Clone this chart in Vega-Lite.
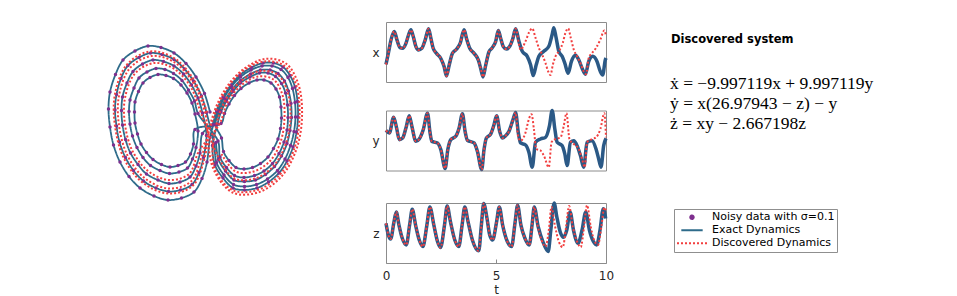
{
"padding": {"left": 98, "top": 20, "right": 5, "bottom": 0},
"background": "white",
"config": {"view": {"stroke": "#8c8c8c", "strokeWidth": 1}, "font": "DejaVu Sans", "axis": {"grid": false}},
"datasets": {
"ts": [
{"p":"x","s":"E","t":0,"y":-8.3},{"p":"x","s":"E","t":0.121,"y":0.2},{"p":"x","s":"E","t":0.227,"y":8.1},{"p":"x","s":"E","t":0.378,"y":13.7},{"p":"x","s":"E","t":0.498,"y":8.1},{"p":"x","s":"E","t":0.634,"y":2.9},{"p":"x","s":"E","t":0.755,"y":2.5},{"p":"x","s":"E","t":0.906,"y":5.8},{"p":"x","s":"E","t":1.027,"y":11.5},{"p":"x","s":"E","t":1.133,"y":14.8},{"p":"x","s":"E","t":1.239,"y":10.3},{"p":"x","s":"E","t":1.36,"y":3.6},{"p":"x","s":"E","t":1.48,"y":1.4},{"p":"x","s":"E","t":1.631,"y":2.5},{"p":"x","s":"E","t":1.782,"y":8.1},{"p":"x","s":"E","t":1.934,"y":15.5},{"p":"x","s":"E","t":2.039,"y":9.2},{"p":"x","s":"E","t":2.145,"y":2.5},{"p":"x","s":"E","t":2.296,"y":-0.9},{"p":"x","s":"E","t":2.492,"y":-4.3},{"p":"x","s":"E","t":2.644,"y":-9.9},{"p":"x","s":"E","t":2.749,"y":-16},{"p":"x","s":"E","t":2.87,"y":-8.8},{"p":"x","s":"E","t":3.021,"y":-0.9},{"p":"x","s":"E","t":3.202,"y":1.8},{"p":"x","s":"E","t":3.369,"y":5.8},{"p":"x","s":"E","t":3.55,"y":14.8},{"p":"x","s":"E","t":3.656,"y":9.2},{"p":"x","s":"E","t":3.807,"y":2.5},{"p":"x","s":"E","t":4.003,"y":-0.9},{"p":"x","s":"E","t":4.199,"y":-5.4},{"p":"x","s":"E","t":4.305,"y":-11},{"p":"x","s":"E","t":4.411,"y":-16.6},{"p":"x","s":"E","t":4.532,"y":-8.8},{"p":"x","s":"E","t":4.683,"y":0.2},{"p":"x","s":"E","t":4.834,"y":2.9},{"p":"x","s":"E","t":4.985,"y":7},{"p":"x","s":"E","t":5.106,"y":14.4},{"p":"x","s":"E","t":5.211,"y":9.2},{"p":"x","s":"E","t":5.332,"y":3.6},{"p":"x","s":"E","t":5.468,"y":2},{"p":"x","s":"E","t":5.619,"y":3.6},{"p":"x","s":"E","t":5.77,"y":9.2},{"p":"x","s":"E","t":5.891,"y":15.5},{"p":"x","s":"E","t":6.042,"y":7.2},{"p":"x","s":"E","t":6.193,"y":0.5},{"p":"x","s":"E","t":6.42,"y":-2.9},{"p":"x","s":"E","t":6.571,"y":-8.5},{"p":"x","s":"E","t":6.692,"y":-15.7},{"p":"x","s":"E","t":6.828,"y":-8.5},{"p":"x","s":"E","t":6.949,"y":-2.9},{"p":"x","s":"E","t":7.175,"y":0.5},{"p":"x","s":"E","t":7.402,"y":3.8},{"p":"x","s":"E","t":7.553,"y":11.7},{"p":"x","s":"E","t":7.628,"y":16.2},{"p":"x","s":"E","t":7.734,"y":9.4},{"p":"x","s":"E","t":7.855,"y":0.5},{"p":"x","s":"E","t":8.006,"y":-2.9},{"p":"x","s":"E","t":8.127,"y":-7.4},{"p":"x","s":"E","t":8.278,"y":-14.2},{"p":"x","s":"E","t":8.429,"y":-6.3},{"p":"x","s":"E","t":8.61,"y":-2.2},{"p":"x","s":"E","t":8.761,"y":-5.2},{"p":"x","s":"E","t":8.912,"y":-10.8},{"p":"x","s":"E","t":9.063,"y":-14.8},{"p":"x","s":"E","t":9.215,"y":-6.3},{"p":"x","s":"E","t":9.396,"y":-2.9},{"p":"x","s":"E","t":9.592,"y":-6.3},{"p":"x","s":"E","t":9.743,"y":-13},{"p":"x","s":"E","t":9.849,"y":-15.3},{"p":"x","s":"E","t":9.97,"y":-5.2},{"p":"x","s":"E","t":10,"y":-4},
{"p":"x","s":"D","t":6.118,"y":1.6},{"p":"x","s":"D","t":6.344,"y":7.2},{"p":"x","s":"D","t":6.495,"y":12.8},{"p":"x","s":"D","t":6.647,"y":15.7},{"p":"x","s":"D","t":6.798,"y":9.4},{"p":"x","s":"D","t":6.949,"y":2.7},{"p":"x","s":"D","t":7.1,"y":-1.8},{"p":"x","s":"D","t":7.251,"y":-7.4},{"p":"x","s":"D","t":7.372,"y":-13},{"p":"x","s":"D","t":7.477,"y":-15.3},{"p":"x","s":"D","t":7.583,"y":-8.5},{"p":"x","s":"D","t":7.704,"y":-2.9},{"p":"x","s":"D","t":7.855,"y":0.5},{"p":"x","s":"D","t":8.036,"y":6.1},{"p":"x","s":"D","t":8.157,"y":12.8},{"p":"x","s":"D","t":8.278,"y":15.7},{"p":"x","s":"D","t":8.399,"y":9.4},{"p":"x","s":"D","t":8.535,"y":1.6},{"p":"x","s":"D","t":8.686,"y":-2.9},{"p":"x","s":"D","t":8.837,"y":-7.4},{"p":"x","s":"D","t":8.988,"y":-13},{"p":"x","s":"D","t":9.094,"y":-14.8},{"p":"x","s":"D","t":9.215,"y":-4},{"p":"x","s":"D","t":9.366,"y":-0.7},{"p":"x","s":"D","t":9.547,"y":2.7},{"p":"x","s":"D","t":9.743,"y":8.3},{"p":"x","s":"D","t":9.924,"y":14.4},{"p":"x","s":"D","t":10,"y":10.6},
{"p":"y","s":"E","t":0,"y":9.4},{"p":"y","s":"E","t":0.151,"y":7},{"p":"y","s":"E","t":0.347,"y":21.8},{"p":"y","s":"E","t":0.483,"y":11.6},{"p":"y","s":"E","t":0.604,"y":0.8},{"p":"y","s":"E","t":0.755,"y":2.3},{"p":"y","s":"E","t":0.906,"y":11.6},{"p":"y","s":"E","t":1.057,"y":23},{"p":"y","s":"E","t":1.178,"y":13.1},{"p":"y","s":"E","t":1.36,"y":-0.8},{"p":"y","s":"E","t":1.511,"y":1.4},{"p":"y","s":"E","t":1.692,"y":10.1},{"p":"y","s":"E","t":1.888,"y":25.5},{"p":"y","s":"E","t":1.994,"y":8.5},{"p":"y","s":"E","t":2.085,"y":-0.8},{"p":"y","s":"E","t":2.341,"y":-2.3},{"p":"y","s":"E","t":2.492,"y":-8.5},{"p":"y","s":"E","t":2.689,"y":-26.1},{"p":"y","s":"E","t":2.81,"y":-8.5},{"p":"y","s":"E","t":2.946,"y":0.8},{"p":"y","s":"E","t":3.172,"y":3.9},{"p":"y","s":"E","t":3.323,"y":11.6},{"p":"y","s":"E","t":3.474,"y":24.9},{"p":"y","s":"E","t":3.595,"y":8.5},{"p":"y","s":"E","t":3.701,"y":0.2},{"p":"y","s":"E","t":4.003,"y":-2.3},{"p":"y","s":"E","t":4.154,"y":-10.1},{"p":"y","s":"E","t":4.35,"y":-27.1},{"p":"y","s":"E","t":4.456,"y":-8.5},{"p":"y","s":"E","t":4.562,"y":2.3},{"p":"y","s":"E","t":4.758,"y":6},{"p":"y","s":"E","t":4.909,"y":14.7},{"p":"y","s":"E","t":5.03,"y":23},{"p":"y","s":"E","t":5.166,"y":8.5},{"p":"y","s":"E","t":5.287,"y":2.3},{"p":"y","s":"E","t":5.438,"y":4.5},{"p":"y","s":"E","t":5.589,"y":8.5},{"p":"y","s":"E","t":5.77,"y":19.3},{"p":"y","s":"E","t":5.891,"y":26.1},{"p":"y","s":"E","t":6.012,"y":7.6},{"p":"y","s":"E","t":6.118,"y":-2.3},{"p":"y","s":"E","t":6.344,"y":-4.2},{"p":"y","s":"E","t":6.495,"y":-11},{"p":"y","s":"E","t":6.647,"y":-24.9},{"p":"y","s":"E","t":6.798,"y":-1.7},{"p":"y","s":"E","t":7.024,"y":1.4},{"p":"y","s":"E","t":7.251,"y":2.9},{"p":"y","s":"E","t":7.432,"y":13.8},{"p":"y","s":"E","t":7.553,"y":28},{"p":"y","s":"E","t":7.674,"y":10.7},{"p":"y","s":"E","t":7.779,"y":-1.7},{"p":"y","s":"E","t":8.006,"y":-4.8},{"p":"y","s":"E","t":8.127,"y":-12.5},{"p":"y","s":"E","t":8.233,"y":-23.4},{"p":"y","s":"E","t":8.384,"y":-1.7},{"p":"y","s":"E","t":8.535,"y":-0.2},{"p":"y","s":"E","t":8.686,"y":-4.8},{"p":"y","s":"E","t":8.837,"y":-14.1},{"p":"y","s":"E","t":8.988,"y":-24.9},{"p":"y","s":"E","t":9.139,"y":-1.7},{"p":"y","s":"E","t":9.366,"y":-0.2},{"p":"y","s":"E","t":9.547,"y":-7.9},{"p":"y","s":"E","t":9.668,"y":-17.2},{"p":"y","s":"E","t":9.773,"y":-24.9},{"p":"y","s":"E","t":9.894,"y":-4.8},{"p":"y","s":"E","t":10,"y":2},
{"p":"y","s":"D","t":6.012,"y":2.9},{"p":"y","s":"D","t":6.118,"y":-0.2},{"p":"y","s":"D","t":6.344,"y":7.6},{"p":"y","s":"D","t":6.495,"y":20},{"p":"y","s":"D","t":6.616,"y":24.6},{"p":"y","s":"D","t":6.722,"y":10.7},{"p":"y","s":"D","t":6.828,"y":-7.9},{"p":"y","s":"D","t":7.024,"y":-9.4},{"p":"y","s":"D","t":7.175,"y":-14.1},{"p":"y","s":"D","t":7.402,"y":-24.9},{"p":"y","s":"D","t":7.523,"y":-1.7},{"p":"y","s":"D","t":7.704,"y":1.4},{"p":"y","s":"D","t":7.93,"y":2.9},{"p":"y","s":"D","t":8.082,"y":13.8},{"p":"y","s":"D","t":8.202,"y":25.5},{"p":"y","s":"D","t":8.338,"y":1.4},{"p":"y","s":"D","t":8.535,"y":-3.3},{"p":"y","s":"D","t":8.761,"y":-7.9},{"p":"y","s":"D","t":8.912,"y":-17.2},{"p":"y","s":"D","t":9.033,"y":-24.9},{"p":"y","s":"D","t":9.139,"y":-1.7},{"p":"y","s":"D","t":9.366,"y":1.4},{"p":"y","s":"D","t":9.547,"y":2.9},{"p":"y","s":"D","t":9.743,"y":10.7},{"p":"y","s":"D","t":9.924,"y":25.5},{"p":"y","s":"D","t":10,"y":2.9},
{"p":"z","s":"E","t":0,"y":33},{"p":"z","s":"E","t":0.106,"y":23.4},{"p":"z","s":"E","t":0.211,"y":20.1},{"p":"z","s":"E","t":0.363,"y":34.3},{"p":"z","s":"E","t":0.468,"y":42.6},{"p":"z","s":"E","t":0.589,"y":31.6},{"p":"z","s":"E","t":0.74,"y":20.6},{"p":"z","s":"E","t":0.921,"y":15.1},{"p":"z","s":"E","t":1.073,"y":31.6},{"p":"z","s":"E","t":1.193,"y":44.8},{"p":"z","s":"E","t":1.344,"y":31.6},{"p":"z","s":"E","t":1.511,"y":19.2},{"p":"z","s":"E","t":1.677,"y":13.7},{"p":"z","s":"E","t":1.858,"y":31.6},{"p":"z","s":"E","t":1.994,"y":46.7},{"p":"z","s":"E","t":2.175,"y":31.6},{"p":"z","s":"E","t":2.341,"y":17.9},{"p":"z","s":"E","t":2.477,"y":12.9},{"p":"z","s":"E","t":2.659,"y":31.6},{"p":"z","s":"E","t":2.779,"y":47.5},{"p":"z","s":"E","t":2.931,"y":34.3},{"p":"z","s":"E","t":3.127,"y":19.2},{"p":"z","s":"E","t":3.308,"y":13.7},{"p":"z","s":"E","t":3.459,"y":31.6},{"p":"z","s":"E","t":3.58,"y":46.7},{"p":"z","s":"E","t":3.731,"y":34.3},{"p":"z","s":"E","t":3.927,"y":19.2},{"p":"z","s":"E","t":4.215,"y":10.2},{"p":"z","s":"E","t":4.335,"y":31.6},{"p":"z","s":"E","t":4.441,"y":49.5},{"p":"z","s":"E","t":4.592,"y":37.1},{"p":"z","s":"E","t":4.713,"y":23.4},{"p":"z","s":"E","t":4.849,"y":19.2},{"p":"z","s":"E","t":5.015,"y":33},{"p":"z","s":"E","t":5.151,"y":46.7},{"p":"z","s":"E","t":5.302,"y":31.6},{"p":"z","s":"E","t":5.514,"y":17.9},{"p":"z","s":"E","t":5.71,"y":13.7},{"p":"z","s":"E","t":5.861,"y":33},{"p":"z","s":"E","t":5.982,"y":48.1},{"p":"z","s":"E","t":6.133,"y":31.6},{"p":"z","s":"E","t":6.314,"y":20.6},{"p":"z","s":"E","t":6.511,"y":15.1},{"p":"z","s":"E","t":6.647,"y":33},{"p":"z","s":"E","t":6.737,"y":46.7},{"p":"z","s":"E","t":6.918,"y":30.2},{"p":"z","s":"E","t":7.13,"y":17.9},{"p":"z","s":"E","t":7.372,"y":9.6},{"p":"z","s":"E","t":7.492,"y":27.5},{"p":"z","s":"E","t":7.644,"y":50},{"p":"z","s":"E","t":7.764,"y":38.5},{"p":"z","s":"E","t":7.915,"y":26.1},{"p":"z","s":"E","t":8.066,"y":21.4},{"p":"z","s":"E","t":8.218,"y":27.5},{"p":"z","s":"E","t":8.369,"y":42.6},{"p":"z","s":"E","t":8.52,"y":27.5},{"p":"z","s":"E","t":8.731,"y":16.5},{"p":"z","s":"E","t":8.912,"y":27.5},{"p":"z","s":"E","t":9.079,"y":42.6},{"p":"z","s":"E","t":9.245,"y":27.5},{"p":"z","s":"E","t":9.426,"y":17.9},{"p":"z","s":"E","t":9.577,"y":15.1},{"p":"z","s":"E","t":9.728,"y":27.5},{"p":"z","s":"E","t":9.879,"y":45.3},{"p":"z","s":"E","t":9.985,"y":37.1},
{"p":"z","s":"D","t":6.888,"y":31.6},{"p":"z","s":"D","t":7.069,"y":19.2},{"p":"z","s":"D","t":7.251,"y":13.7},{"p":"z","s":"D","t":7.402,"y":27.5},{"p":"z","s":"D","t":7.523,"y":46.7},{"p":"z","s":"D","t":7.674,"y":31.6},{"p":"z","s":"D","t":7.855,"y":17.9},{"p":"z","s":"D","t":8.036,"y":13.2},{"p":"z","s":"D","t":8.187,"y":30.2},{"p":"z","s":"D","t":8.323,"y":47.5},{"p":"z","s":"D","t":8.489,"y":30.2},{"p":"z","s":"D","t":8.686,"y":17.9},{"p":"z","s":"D","t":8.852,"y":13.2},{"p":"z","s":"D","t":9.003,"y":30.2},{"p":"z","s":"D","t":9.139,"y":48.1},{"p":"z","s":"D","t":9.305,"y":30.2},{"p":"z","s":"D","t":9.486,"y":17.9},{"p":"z","s":"D","t":9.637,"y":15.1},{"p":"z","s":"D","t":9.789,"y":30.2},{"p":"z","s":"D","t":9.924,"y":46.2},{"p":"z","s":"D","t":9.985,"y":44}
],
"ae": [
{"o":0,"u":0.4,"v":19.6},{"o":1,"u":-0.7,"v":23.3},{"o":2,"u":-2.4,"v":26.6},{"o":3,"u":-4.4,"v":29.3},{"o":4,"u":-6.8,"v":31.4},{"o":5,"u":-9.4,"v":32.5},{"o":6,"u":-12,"v":32.8},{"o":7,"u":-14.6,"v":31.8},{"o":8,"u":-17,"v":30},{"o":9,"u":-18.5,"v":27.1},{"o":10,"u":-19.6,"v":23.6},{"o":11,"u":-19.9,"v":20.2},{"o":12,"u":-19.6,"v":16.6},{"o":13,"u":-18.9,"v":13},{"o":14,"u":-17.6,"v":9.6},{"o":15,"u":-15.8,"v":6.7},{"o":16,"u":-13.6,"v":4.4},{"o":17,"u":-10.8,"v":2.8},{"o":18,"u":-8,"v":2},{"o":19,"u":-5.3,"v":2.4},{"o":20,"u":-2.8,"v":3.6},{"o":21,"u":-1.2,"v":6.3},{"o":22,"u":-0.2,"v":9.6},{"o":23,"u":0.4,"v":14.5},
{"o":24,"u":1.1,"v":17.1},{"o":25,"u":2,"v":19.8},{"o":26,"u":3.2,"v":22.4},{"o":27,"u":4.7,"v":24.7},{"o":28,"u":6.5,"v":26.6},{"o":29,"u":8.6,"v":28},{"o":30,"u":10.8,"v":28.8},{"o":31,"u":12.8,"v":28.8},{"o":32,"u":14.6,"v":28.1},{"o":33,"u":16,"v":26.5},{"o":34,"u":16.9,"v":24.3},{"o":35,"u":17.4,"v":21.5},{"o":36,"u":17.5,"v":18.6},{"o":37,"u":17.2,"v":15.7},{"o":38,"u":16.5,"v":12.9},{"o":39,"u":15.4,"v":10.2},{"o":40,"u":13.9,"v":7.9},{"o":41,"u":11.9,"v":6.2},{"o":42,"u":9.7,"v":5.1},{"o":43,"u":7.3,"v":4.7},{"o":44,"u":5.1,"v":5.1},{"o":45,"u":3.2,"v":7},{"o":46,"u":1.7,"v":9.5},{"o":47,"u":1.2,"v":13.2},
{"o":48,"u":-0.3,"v":19.5},{"o":49,"u":-1.3,"v":22.8},{"o":50,"u":-2.9,"v":25.8},{"o":51,"u":-4.7,"v":28.2},{"o":52,"u":-6.8,"v":30.1},{"o":53,"u":-9.2,"v":31.1},{"o":54,"u":-11.5,"v":31.4},{"o":55,"u":-13.8,"v":30.5},{"o":56,"u":-16,"v":28.9},{"o":57,"u":-17.4,"v":26.3},{"o":58,"u":-18.3,"v":23.1},{"o":59,"u":-18.6,"v":20},{"o":60,"u":-18.3,"v":16.8},{"o":61,"u":-17.7,"v":13.6},{"o":62,"u":-16.5,"v":10.5},{"o":63,"u":-14.9,"v":7.9},{"o":64,"u":-12.9,"v":5.8},{"o":65,"u":-10.4,"v":4.4},{"o":66,"u":-7.9,"v":3.7},{"o":67,"u":-5.5,"v":4},{"o":68,"u":-3.2,"v":5.1},{"o":69,"u":-1.8,"v":7.5},{"o":70,"u":-0.9,"v":10.5},{"o":71,"u":-0.3,"v":14.9},
{"o":72,"u":-1.1,"v":19.4},{"o":73,"u":-2,"v":22.4},{"o":74,"u":-3.3,"v":25},{"o":75,"u":-4.9,"v":27.2},{"o":76,"u":-6.8,"v":28.8},{"o":77,"u":-8.9,"v":29.7},{"o":78,"u":-11,"v":30},{"o":79,"u":-13.1,"v":29.2},{"o":80,"u":-15,"v":27.7},{"o":81,"u":-16.2,"v":25.4},{"o":82,"u":-17.1,"v":22.6},{"o":83,"u":-17.3,"v":19.9},{"o":84,"u":-17.1,"v":17},{"o":85,"u":-16.5,"v":14.1},{"o":86,"u":-15.5,"v":11.4},{"o":87,"u":-14,"v":9.1},{"o":88,"u":-12.3,"v":7.2},{"o":89,"u":-10,"v":6},{"o":90,"u":-7.8,"v":5.3},{"o":91,"u":-5.6,"v":5.6},{"o":92,"u":-3.6,"v":6.6},{"o":93,"u":-2.4,"v":8.8},{"o":94,"u":-1.6,"v":11.4},{"o":95,"u":-1.1,"v":15.3},
{"o":96,"u":0.8,"v":17},{"o":97,"u":1.7,"v":19.9},{"o":98,"u":3,"v":22.6},{"o":99,"u":4.6,"v":25},{"o":100,"u":6.4,"v":27},{"o":101,"u":8.7,"v":28.5},{"o":102,"u":11,"v":29.4},{"o":103,"u":13.1,"v":29.4},{"o":104,"u":15,"v":28.6},{"o":105,"u":16.4,"v":26.9},{"o":106,"u":17.4,"v":24.6},{"o":107,"u":17.9,"v":21.7},{"o":108,"u":18,"v":18.6},{"o":109,"u":17.7,"v":15.6},{"o":110,"u":17,"v":12.6},{"o":111,"u":15.8,"v":9.8},{"o":112,"u":14.2,"v":7.4},{"o":113,"u":12.1,"v":5.6},{"o":114,"u":9.8,"v":4.4},{"o":115,"u":7.3,"v":4},{"o":116,"u":5,"v":4.4},{"o":117,"u":3,"v":6.4},{"o":118,"u":1.4,"v":9},{"o":119,"u":0.9,"v":12.9},
{"o":120,"u":1.9,"v":17.2},{"o":121,"u":2.6,"v":19.6},{"o":122,"u":3.7,"v":21.8},{"o":123,"u":5,"v":23.7},{"o":124,"u":6.5,"v":25.4},{"o":125,"u":8.4,"v":26.6},{"o":126,"u":10.3,"v":27.4},{"o":127,"u":12,"v":27.4},{"o":128,"u":13.5,"v":26.7},{"o":129,"u":14.7,"v":25.3},{"o":130,"u":15.5,"v":23.4},{"o":131,"u":15.9,"v":21},{"o":132,"u":16,"v":18.5},{"o":133,"u":15.8,"v":16},{"o":134,"u":15.2,"v":13.6},{"o":135,"u":14.2,"v":11.3},{"o":136,"u":12.9,"v":9.3},{"o":137,"u":11.2,"v":7.8},{"o":138,"u":9.3,"v":6.9},{"o":139,"u":7.2,"v":6.5},{"o":140,"u":5.3,"v":6.9},{"o":141,"u":3.7,"v":8.5},{"o":142,"u":2.4,"v":10.6},{"o":143,"u":2,"v":13.8},
{"o":144,"u":-2,"v":19.3},{"o":145,"u":-2.7,"v":21.8},{"o":146,"u":-3.9,"v":24},{"o":147,"u":-5.2,"v":25.9},{"o":148,"u":-6.9,"v":27.3},{"o":149,"u":-8.6,"v":28.1},{"o":150,"u":-10.4,"v":28.3},{"o":151,"u":-12.2,"v":27.6},{"o":152,"u":-13.8,"v":26.4},{"o":153,"u":-14.8,"v":24.4},{"o":154,"u":-15.6,"v":22},{"o":155,"u":-15.8,"v":19.7},{"o":156,"u":-15.6,"v":17.2},{"o":157,"u":-15.1,"v":14.8},{"o":158,"u":-14.2,"v":12.5},{"o":159,"u":-13,"v":10.5},{"o":160,"u":-11.5,"v":8.9},{"o":161,"u":-9.6,"v":7.9},{"o":162,"u":-7.7,"v":7.3},{"o":163,"u":-5.8,"v":7.6},{"o":164,"u":-4.1,"v":8.4},{"o":165,"u":-3.1,"v":10.2},{"o":166,"u":-2.4,"v":12.5},{"o":167,"u":-2,"v":15.8},
{"o":168,"u":-2.6,"v":19.2},{"o":169,"u":-3.2,"v":21.4},{"o":170,"u":-4.2,"v":23.4},{"o":171,"u":-5.4,"v":25},{"o":172,"u":-6.9,"v":26.3},{"o":173,"u":-8.4,"v":26.9},{"o":174,"u":-10,"v":27.1},{"o":175,"u":-11.6,"v":26.5},{"o":176,"u":-13,"v":25.4},{"o":177,"u":-13.9,"v":23.7},{"o":178,"u":-14.6,"v":21.6},{"o":179,"u":-14.7,"v":19.6},{"o":180,"u":-14.6,"v":17.4},{"o":181,"u":-14.1,"v":15.2},{"o":182,"u":-13.4,"v":13.2},{"o":183,"u":-12.3,"v":11.5},{"o":184,"u":-11,"v":10.1},{"o":185,"u":-9.3,"v":9.1},{"o":186,"u":-7.6,"v":8.6},{"o":187,"u":-6,"v":8.9},{"o":188,"u":-4.5,"v":9.6},{"o":189,"u":-3.5,"v":11.2},{"o":190,"u":-2.9,"v":13.2},{"o":191,"u":-2.6,"v":16.1},
{"o":192,"u":2.6,"v":17.3},{"o":193,"u":3.3,"v":19.3},{"o":194,"u":4.2,"v":21.2},{"o":195,"u":5.3,"v":22.9},{"o":196,"u":6.6,"v":24.3},{"o":197,"u":8.2,"v":25.4},{"o":198,"u":9.8,"v":26},{"o":199,"u":11.2,"v":26},{"o":200,"u":12.6,"v":25.4},{"o":201,"u":13.6,"v":24.2},{"o":202,"u":14.3,"v":22.6},{"o":203,"u":14.6,"v":20.6},{"o":204,"u":14.7,"v":18.4},{"o":205,"u":14.5,"v":16.3},{"o":206,"u":14,"v":14.2},{"o":207,"u":13.1,"v":12.3},{"o":208,"u":12,"v":10.6},{"o":209,"u":10.5,"v":9.3},{"o":210,"u":8.9,"v":8.5},{"o":211,"u":7.2,"v":8.2},{"o":212,"u":5.6,"v":8.5},{"o":213,"u":4.2,"v":9.9},{"o":214,"u":3.1,"v":11.7},{"o":215,"u":2.7,"v":14.4},
{"o":216,"u":1.5,"v":17.1},{"o":217,"u":2.3,"v":19.7},{"o":218,"u":3.5,"v":22.1},{"o":219,"u":4.9,"v":24.2},{"o":220,"u":6.5,"v":25.9},{"o":221,"u":8.5,"v":27.2},{"o":222,"u":10.5,"v":28},{"o":223,"u":12.4,"v":28},{"o":224,"u":14,"v":27.3},{"o":225,"u":15.3,"v":25.8},{"o":226,"u":16.1,"v":23.8},{"o":227,"u":16.6,"v":21.3},{"o":228,"u":16.7,"v":18.5},{"o":229,"u":16.4,"v":15.9},{"o":230,"u":15.8,"v":13.3},{"o":231,"u":14.7,"v":10.8},{"o":232,"u":13.3,"v":8.7},{"o":233,"u":11.5,"v":7.1},{"o":234,"u":9.5,"v":6},{"o":235,"u":7.3,"v":5.7},{"o":236,"u":5.2,"v":6},{"o":237,"u":3.5,"v":7.8},{"o":238,"u":2.1,"v":10.1},{"o":239,"u":1.6,"v":13.5}
],
"ad": [
{"o":0,"u":-0.2,"v":19.5},{"o":1,"u":-2.8,"v":26},{"o":2,"u":-6.8,"v":30.4},{"o":3,"u":-11.6,"v":31.7},{"o":4,"u":-16.2,"v":29.1},{"o":5,"u":-18.6,"v":23.2},{"o":6,"u":-18.6,"v":16.8},{"o":7,"u":-16.8,"v":10.3},{"o":8,"u":-13.1,"v":5.5},{"o":9,"u":-7.9,"v":3.3},{"o":10,"u":-3.1,"v":4.8},{"o":11,"u":-0.7,"v":10.3},
{"o":12,"u":0.4,"v":16.9},{"o":13,"u":2.7,"v":22.9},{"o":14,"u":6.4,"v":27.6},{"o":15,"u":11.3,"v":30.2},{"o":16,"u":15.6,"v":29.3},{"o":17,"u":18.1,"v":25.1},{"o":18,"u":18.8,"v":18.6},{"o":19,"u":17.7,"v":12.2},{"o":20,"u":14.7,"v":6.7},{"o":21,"u":10,"v":3.5},{"o":22,"u":4.9,"v":3.5},{"o":23,"u":1,"v":8.4},
{"o":24,"u":-0.6,"v":19.5},{"o":25,"u":-3,"v":25.5},{"o":26,"u":-6.8,"v":29.6},{"o":27,"u":-11.3,"v":30.8},{"o":28,"u":-15.6,"v":28.4},{"o":29,"u":-17.8,"v":22.9},{"o":30,"u":-17.8,"v":16.9},{"o":31,"u":-16.1,"v":10.9},{"o":32,"u":-12.7,"v":6.4},{"o":33,"u":-7.9,"v":4.3},{"o":34,"u":-3.4,"v":5.7},{"o":35,"u":-1.2,"v":10.9},
{"o":36,"u":0.6,"v":17},{"o":37,"u":2.9,"v":22.7},{"o":38,"u":6.4,"v":27.3},{"o":39,"u":11.1,"v":29.7},{"o":40,"u":15.2,"v":28.9},{"o":41,"u":17.7,"v":24.8},{"o":42,"u":18.3,"v":18.6},{"o":43,"u":17.3,"v":12.4},{"o":44,"u":14.4,"v":7.1},{"o":45,"u":9.9,"v":4},{"o":46,"u":4.9,"v":4},{"o":47,"u":1.2,"v":8.7},
{"o":48,"u":1.7,"v":17.1},{"o":49,"u":3.5,"v":22},{"o":50,"u":6.5,"v":25.7},{"o":51,"u":10.4,"v":27.8},{"o":52,"u":13.9,"v":27.1},{"o":53,"u":15.9,"v":23.7},{"o":54,"u":16.5,"v":18.5},{"o":55,"u":15.6,"v":13.4},{"o":56,"u":13.2,"v":8.9},{"o":57,"u":9.4,"v":6.3},{"o":58,"u":5.3,"v":6.3},{"o":59,"u":2.2,"v":10.3},
{"o":60,"u":-1.4,"v":19.4},{"o":61,"u":-3.5,"v":24.7},{"o":62,"u":-6.9,"v":28.3},{"o":63,"u":-10.8,"v":29.4},{"o":64,"u":-14.6,"v":27.3},{"o":65,"u":-16.6,"v":22.4},{"o":66,"u":-16.6,"v":17.1},{"o":67,"u":-15.1,"v":11.8},{"o":68,"u":-12,"v":7.8},{"o":69,"u":-7.8,"v":6},{"o":70,"u":-3.8,"v":7.2},{"o":71,"u":-1.8,"v":11.8},
{"o":72,"u":2.3,"v":17.2},{"o":73,"u":3.9,"v":21.5},{"o":74,"u":6.5,"v":24.8},{"o":75,"u":10,"v":26.7},{"o":76,"u":13.1,"v":26.1},{"o":77,"u":14.9,"v":23},{"o":78,"u":15.3,"v":18.5},{"o":79,"u":14.6,"v":13.9},{"o":80,"u":12.5,"v":9.9},{"o":81,"u":9.1,"v":7.7},{"o":82,"u":5.5,"v":7.7},{"o":83,"u":2.7,"v":11.2}
]
},
"spacing": 53,
"hconcat": [
{
"width": 220, "height": 188,
"view": {"stroke": null},
"encoding": {
"x": {"field": "u", "type": "quantitative", "scale": {"domain": [-22, 22], "nice": false}, "axis": null},
"y": {"field": "v", "type": "quantitative", "scale": {"domain": [0, 37.6], "nice": false}, "axis": null},
"order": {"field": "o", "type": "quantitative"}
},
"layer": [
{"data": {"name": "ae"}, "mark": {"type": "line", "interpolate": "catmull-rom", "strokeWidth": 1.8},
"encoding": {
"color": {"datum": "Exact Dynamics", "type": "nominal", "scale": {"domain": ["Noisy data with σ=0.1", "Exact Dynamics", "Discovered Dynamics"], "range": ["#7e2f8e", "#2e6b8a", "#f23f3f"]}, "legend": {"title": null, "orient": "none", "legendX": 576, "legendY": 187, "symbolStrokeWidth": 2, "clipHeight": 12.5, "rowPadding": 0, "padding": 2, "labelFont": "DejaVu Sans", "labelFontSize": 11, "labelColor": "black", "labelOffset": 4, "labelLimit": 300, "strokeColor": "#8f8f8f", "fillColor": "white"}},
"strokeDash": {"datum": "Exact Dynamics", "type": "nominal", "scale": {"domain": ["Noisy data with σ=0.1", "Exact Dynamics", "Discovered Dynamics"], "range": [[1, 0], [1, 0], [2, 2]]}, "legend": {"title": null, "orient": "none", "legendX": 576, "legendY": 187, "symbolStrokeWidth": 2, "clipHeight": 12.5, "rowPadding": 0, "padding": 2, "labelFont": "DejaVu Sans", "labelFontSize": 11, "labelColor": "black", "labelOffset": 4, "labelLimit": 300, "strokeColor": "#8f8f8f", "fillColor": "white"}}
}},
{"data": {"name": "ae"}, "mark": {"type": "point", "filled": true, "opacity": 1},
"encoding": {
"color": {"datum": "Noisy data with σ=0.1", "type": "nominal"},
"shape": {"datum": "Noisy data with σ=0.1", "type": "nominal", "scale": {"domain": ["Noisy data with σ=0.1", "Exact Dynamics", "Discovered Dynamics"], "range": ["circle", "stroke", "stroke"]}, "legend": {"title": null, "orient": "none", "legendX": 576, "legendY": 187, "symbolStrokeWidth": 2, "clipHeight": 12.5, "rowPadding": 0, "padding": 2, "labelFont": "DejaVu Sans", "labelFontSize": 11, "labelColor": "black", "labelOffset": 4, "labelLimit": 300, "strokeColor": "#8f8f8f", "fillColor": "white"}},
"size": {"datum": "Noisy data with σ=0.1", "type": "nominal", "scale": {"domain": ["Noisy data with σ=0.1", "Exact Dynamics", "Discovered Dynamics"], "range": [12, 900, 900]}, "legend": {"title": null, "orient": "none", "legendX": 576, "legendY": 187, "symbolStrokeWidth": 2, "clipHeight": 12.5, "rowPadding": 0, "padding": 2, "labelFont": "DejaVu Sans", "labelFontSize": 11, "labelColor": "black", "labelOffset": 4, "labelLimit": 300, "strokeColor": "#8f8f8f", "fillColor": "white"}}
}},
{"data": {"name": "ad"}, "mark": {"type": "line", "interpolate": "catmull-rom", "strokeWidth": 2},
"encoding": {
"color": {"datum": "Discovered Dynamics", "type": "nominal"},
"strokeDash": {"datum": "Discovered Dynamics", "type": "nominal"}
}}
]
},
{
"spacing": 17.5,
"vconcat": [
{
"width": 220, "height": 60,
"data": {"name": "ts"},
"transform": [{"filter": "datum.p == 'x'"}],
"encoding": {
"x": {"field": "t", "type": "quantitative", "scale": {"domain": [0, 10], "nice": false}, "axis": null},
"y": {"field": "y", "type": "quantitative", "scale": {"domain": [-20, 20], "nice": false}, "axis": {"title": "x", "titleAngle": 0, "titleAlign": "right", "titleBaseline": "middle", "titlePadding": 7, "titleFontSize": 12, "titleFont": "DejaVu Sans", "titleFontWeight": "normal", "titleColor": "#262626", "labels": false, "ticks": false, "domain": false, "grid": false}}
},
"layer": [
{"transform": [{"filter": "datum.s == 'E'"}], "mark": {"type": "line", "interpolate": "monotone", "color": "#2b5986", "strokeWidth": 3.5}, "encoding": {}},
{"transform": [{"filter": "datum.s == 'D' || datum.t <= 5.9"}], "mark": {"type": "line", "interpolate": "monotone", "color": "#f23f3f", "strokeWidth": 2, "strokeDash": [2, 2]}, "encoding": {}}
]
},
{
"width": 220, "height": 60,
"data": {"name": "ts"},
"transform": [{"filter": "datum.p == 'y'"}],
"encoding": {
"x": {"field": "t", "type": "quantitative", "scale": {"domain": [0, 10], "nice": false}, "axis": null},
"y": {"field": "y", "type": "quantitative", "scale": {"domain": [-28, 28], "nice": false}, "axis": {"title": "y", "titleAngle": 0, "titleAlign": "right", "titleBaseline": "middle", "titlePadding": 7, "titleFontSize": 12, "titleFont": "DejaVu Sans", "titleFontWeight": "normal", "titleColor": "#262626", "labels": false, "ticks": false, "domain": false, "grid": false}}
},
"layer": [
{"transform": [{"filter": "datum.s == 'E'"}], "mark": {"type": "line", "interpolate": "monotone", "color": "#2b5986", "strokeWidth": 3.5}, "encoding": {}},
{"transform": [{"filter": "datum.s == 'D' || datum.t <= 5.9"}], "mark": {"type": "line", "interpolate": "monotone", "color": "#f23f3f", "strokeWidth": 2, "strokeDash": [2, 2]}, "encoding": {}}
]
},
{
"width": 220, "height": 60,
"data": {"name": "ts"},
"transform": [{"filter": "datum.p == 'z'"}],
"encoding": {
"x": {"field": "t", "type": "quantitative", "scale": {"domain": [0, 10], "nice": false}, "axis": {"values": [0, 5, 10], "format": "d", "title": "t", "domain": false, "grid": false, "ticks": true, "tickSize": -4, "tickColor": "#8c8c8c", "labelPadding": 11, "labelFontSize": 12, "labelFont": "DejaVu Sans", "labelColor": "#262626", "labelFlush": false, "titleFontSize": 12, "titleFont": "DejaVu Sans", "titleFontWeight": "normal", "titleColor": "#262626", "titlePadding": 3}},
"y": {"field": "y", "type": "quantitative", "scale": {"domain": [0, 50], "nice": false}, "axis": {"title": "z", "titleAngle": 0, "titleAlign": "right", "titleBaseline": "middle", "titlePadding": 7, "titleFontSize": 12, "titleFont": "DejaVu Sans", "titleFontWeight": "normal", "titleColor": "#262626", "labels": false, "ticks": false, "domain": false, "grid": false}}
},
"layer": [
{"transform": [{"filter": "datum.s == 'E'"}], "mark": {"type": "line", "interpolate": "monotone", "color": "#2b5986", "strokeWidth": 3.5}, "encoding": {}},
{"transform": [{"filter": "datum.s == 'D' || datum.t <= 6.74"}], "mark": {"type": "line", "interpolate": "monotone", "color": "#f23f3f", "strokeWidth": 2, "strokeDash": [2, 2]}, "encoding": {}}
]
}
]
},
{
"width": 200, "height": 126,
"view": {"stroke": null},
"data": {"values": [
{"row": 0, "kind": "head", "label": "Discovered system"},
{"row": 2, "kind": "eq", "label": "ẋ = −9.997119x + 9.997119y"},
{"row": 3, "kind": "eq", "label": "ẏ = x(26.97943 − z) − y"},
{"row": 4, "kind": "eq", "label": "ż = xy − 2.667198z"}
]},
"encoding": {
"x": {"datum": 0, "type": "quantitative", "scale": {"domain": [0, 1], "nice": false}, "axis": null},
"y": {"field": "row", "type": "quantitative", "scale": {"domain": [-0.9, 5.4], "nice": false, "reverse": true}, "axis": null},
"text": {"field": "label"}
},
"layer": [
{"transform": [{"filter": "datum.kind == 'head'"}], "mark": {"type": "text", "align": "left", "baseline": "middle", "font": "DejaVu Sans", "fontWeight": "bold", "fontSize": 11.5, "dx": 3, "color": "black"}, "encoding": {}},
{"transform": [{"filter": "datum.kind == 'eq'"}], "mark": {"type": "text", "align": "left", "baseline": "middle", "font": "Liberation Serif", "fontSize": 17.5, "dx": 2, "dy": 4, "color": "black"}, "encoding": {}}
]
}
]
}
